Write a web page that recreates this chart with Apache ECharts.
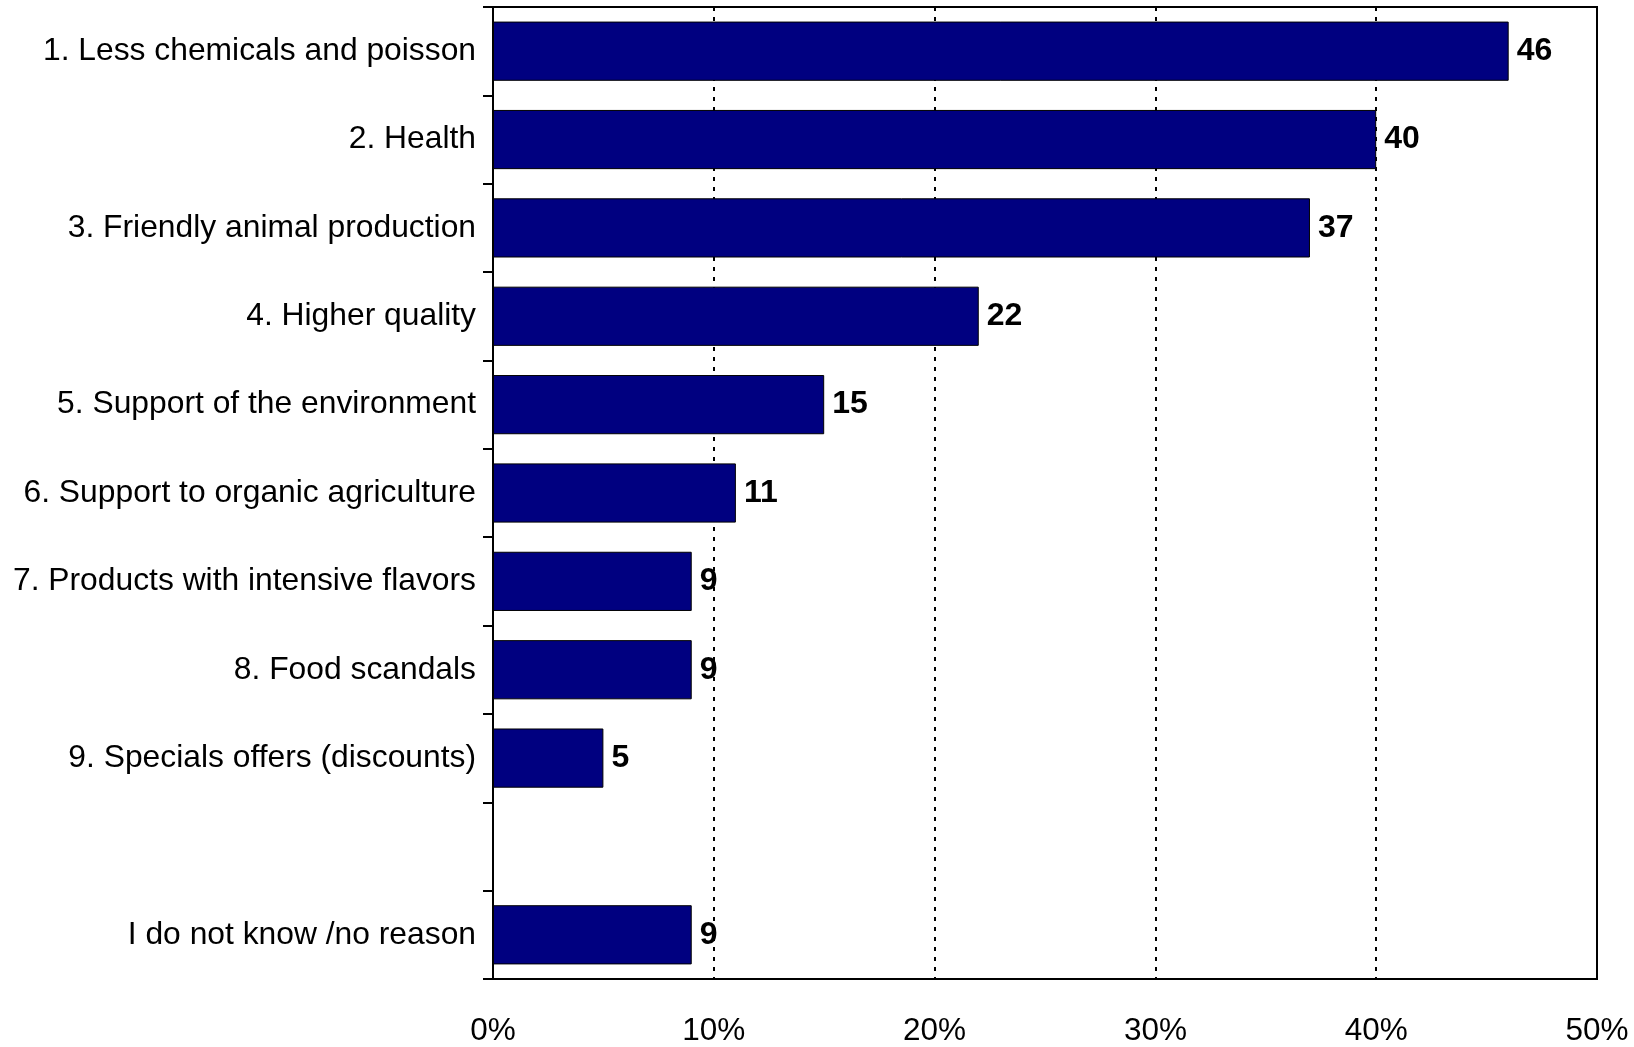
<!DOCTYPE html>
<html>
<head>
<meta charset="utf-8">
<script src="https://cdn.jsdelivr.net/npm/echarts@6/dist/echarts.min.js"></script>
<style>
html,body{margin:0;padding:0;background:#fff;}
#chart{width:1634px;height:1047px;}
</style>
</head>
<body>
<div id="chart"></div>
<script>
const categories = [
  "1. Less chemicals and poisson",
  "2. Health",
  "3. Friendly animal production",
  "4. Higher quality",
  "5. Support of the environment",
  "6. Support to organic agriculture",
  "7. Products with intensive flavors",
  "8. Food scandals",
  "9. Specials offers (discounts)",
  "",
  "I do not know /no reason"
];
const values = [46, 40, 37, 22, 15, 11, 9, 9, 5, null, 9];
const xTicks = [0, 10, 20, 30, 40, 50];

const chart = echarts.init(document.getElementById('chart'), null, {renderer: 'canvas'});
chart.setOption({
  animation: false,
  backgroundColor: '#ffffff',
  grid: {
    left: 493, right: 37, top: 7, bottom: 65,
    show: true, borderColor: '#000', borderWidth: 2, backgroundColor: 'transparent'
  },
  xAxis: {
    type: 'value',
    min: xTicks[0], max: xTicks[xTicks.length - 1], interval: 10,
    axisLine: {show: true, lineStyle: {color: '#000', width: 2}},
    axisTick: {show: false},
    axisLabel: {
      formatter: '{value}%', fontSize: 31.5, color: '#000',
      fontFamily: 'Liberation Sans, Arial, sans-serif', margin: 36
    },
    splitLine: {show: true, lineStyle: {color: '#000', width: 2, type: [4, 6]}}
  },
  yAxis: {
    type: 'category',
    data: categories,
    inverse: true,
    axisLine: {show: true, lineStyle: {color: '#000', width: 2}},
    axisTick: {show: true, length: 10, interval: 0, lineStyle: {color: '#000', width: 2}},
    axisLabel: {
      fontSize: 31.8, color: '#000', interval: 0,
      fontFamily: 'Liberation Sans, Arial, sans-serif', margin: 17
    },
    splitLine: {show: false}
  },
  series: [{
    type: 'bar',
    data: values,
    barCategoryGap: '33%',
    itemStyle: {color: '#000080', borderColor: '#000', borderWidth: 1},
    label: {
      show: true, position: 'right', distance: 8,
      fontSize: 32, fontWeight: 'bold', color: '#000',
      fontFamily: 'Liberation Sans, Arial, sans-serif'
    }
  }]
});
</script>
</body>
</html>
